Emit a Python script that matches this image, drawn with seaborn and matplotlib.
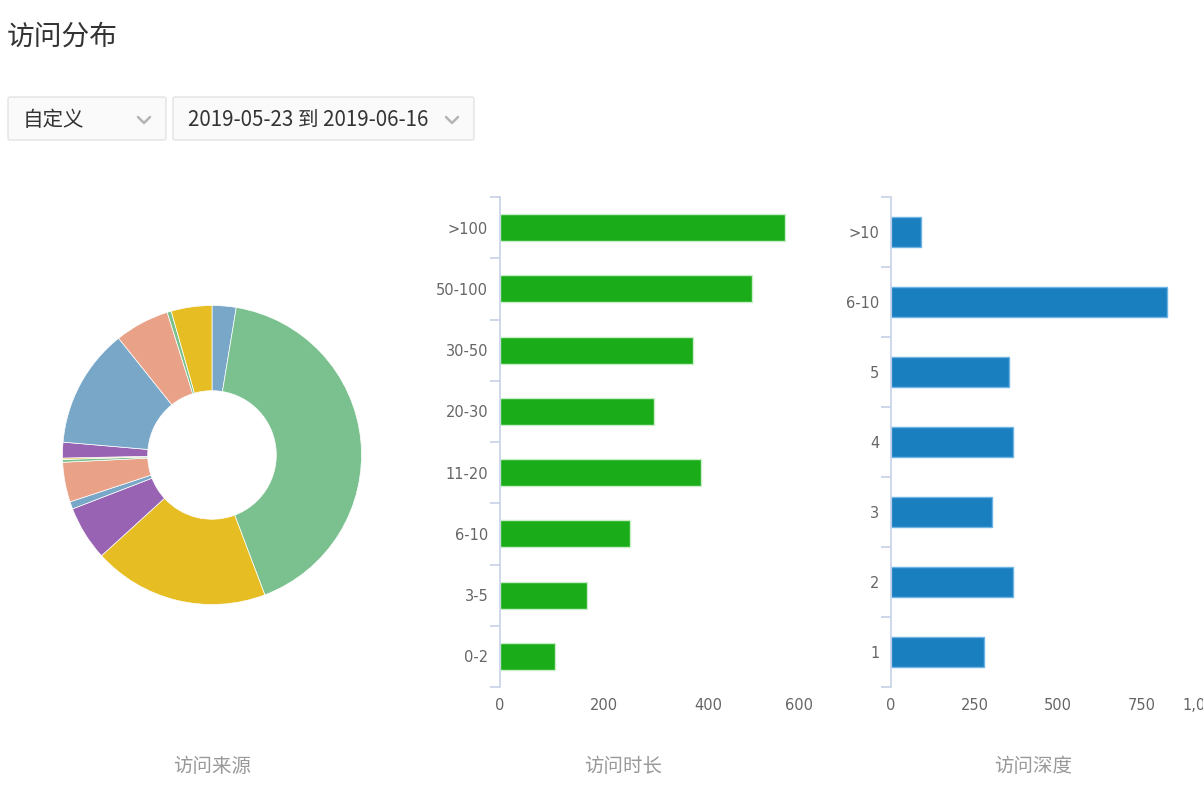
import numpy as np
import pandas as pd
import matplotlib
matplotlib.use("Agg")
import matplotlib.pyplot as plt
import matplotlib.transforms as mtransforms
import seaborn as sns
from matplotlib.patches import FancyBboxPatch
from matplotlib.lines import Line2D

# data
source_share = [2.6, 41.7, 19.0, 5.9, 0.8, 4.3, 0.3, 0.15, 1.7, 12.9, 5.9, 0.45, 4.4]
source_colors = ['#79a7c8', '#7bc08f', '#e6be24', '#9863b2', '#79a7c8', '#e9a287',
                 '#7bc08f', '#e6be24', '#9863b2', '#79a7c8', '#e9a287', '#7bc08f', '#e6be24']

duration_labels = ['>100', '50-100', '30-50', '20-30', '11-20', '6-10', '3-5', '0-2']
duration_values = [548, 485, 371, 297, 387, 250, 167, 106]
duration_ticks = [0, 200, 400, 600]

depth_labels = ['>10', '6-10', '5', '4', '3', '2', '1']
depth_values = [91, 825, 354, 364, 301, 364, 277]
depth_ticks = [0, 250, 500, 750, 1000]

sns.set_theme(style='white')
plt.rcParams['font.family'] = ['Noto Sans CJK SC', 'DejaVu Sans']

W, H = 1203, 794
fig = plt.figure(figsize=(W / 100, H / 100), dpi=100)


def fx(px):
    return px / W


def fy(py):
    return 1 - py / H


# header
fig.text(fx(7), fy(37), '访问分布', fontsize=20, color='#333333', va='center', ha='left')

for x0, x1, label in [(8, 166, '自定义'), (173, 474, '2019-05-23 到 2019-06-16')]:
    box = FancyBboxPatch((fx(x0), fy(140)), fx(x1 - x0), (140 - 97) / H,
                         boxstyle='round,pad=0,rounding_size=0.002',
                         transform=fig.transFigure, facecolor='#fafafa',
                         edgecolor='#e3e3e3', lw=1)
    fig.add_artist(box)
    fig.text(fx(x0 + 15), fy(120), label, fontsize=14.8, color='#333333',
             va='center', ha='left')
    cx = x1 - 22
    fig.add_artist(Line2D([fx(cx - 6), fx(cx), fx(cx + 6)], [fy(117), fy(123), fy(117)],
                          transform=fig.transFigure, color='#b5b5b5', lw=1.8))

# donut
ax_pie = fig.add_axes([fx(61), fy(606), fx(302), 302 / H])
ax_pie.pie(source_share, colors=source_colors, startangle=90, counterclock=False,
           radius=1, wedgeprops=dict(width=0.57, edgecolor='white', linewidth=0.5))
ax_pie.set_xlim(-1.01, 1.01)
ax_pie.set_ylim(-1.01, 1.01)
ax_pie.set_aspect('equal')
ax_pie.axis('off')

axis_col = '#c6d2e8'
tick_col = '#666666'


def style_bar_axis(ax, labels, ticks, ticklabels, xmax, last_shift):
    n = len(labels)
    ax.set_xlim(0, xmax)
    ax.set_ylim(n - 0.5, -0.5)
    for s in ['top', 'right', 'bottom']:
        ax.spines[s].set_visible(False)
    ax.spines['left'].set_color(axis_col)
    ax.spines['left'].set_linewidth(1.2)
    ax.set_yticks(range(n))
    ax.set_yticklabels(labels, family='DejaVu Sans')
    ax.set_yticks(np.arange(-0.5, n, 1.0), minor=True)
    ax.tick_params(axis='y', which='major', length=0, pad=8.5, labelsize=10.5,
                   labelcolor=tick_col)
    ax.tick_params(axis='y', which='minor', length=7, width=1.2, color=axis_col,
                   left=True)
    ax.set_xticks(ticks)
    ax.set_xticklabels(ticklabels, family='DejaVu Sans')
    ax.tick_params(axis='x', length=0, pad=8, labelsize=10.5, labelcolor=tick_col)
    # the outermost label sits a little inside the axis end
    last = ax.get_xticklabels()[-1]
    last.set_transform(last.get_transform() +
                       mtransforms.ScaledTranslation(last_shift / 100, 0, fig.dpi_scale_trans))
    ax.set_xlabel('')
    ax.set_ylabel('')
    ax.grid(False)


# duration bars
ax1 = fig.add_axes([fx(500), fy(687), fx(312), (687 - 197) / H])
df1 = pd.DataFrame({'label': duration_labels, 'value': duration_values})
sns.barplot(data=df1, x='value', y='label', orient='h', color='#1aad19',
            saturation=1, width=0.44, edgecolor='#c9eec9', linewidth=1, ax=ax1)
style_bar_axis(ax1, duration_labels, duration_ticks,
               [str(t) for t in duration_ticks], 600, -13)

# depth bars
ax2 = fig.add_axes([fx(891), fy(687), fx(334), (687 - 197) / H])
df2 = pd.DataFrame({'label': depth_labels, 'value': depth_values})
sns.barplot(data=df2, x='value', y='label', orient='h', color='#1a7fbf',
            saturation=1, width=0.44, edgecolor='#6db3e3', linewidth=1, ax=ax2)
style_bar_axis(ax2, depth_labels, depth_ticks,
               [f'{t:,}' for t in depth_ticks], 1000, -22)

# captions
for x, txt in [(212, '访问来源'), (623, '访问时长'), (1033, '访问深度')]:
    fig.text(fx(x), fy(767), txt, fontsize=14, color='#999999', ha='center', va='center')

fig.savefig('out.png', dpi=100)
